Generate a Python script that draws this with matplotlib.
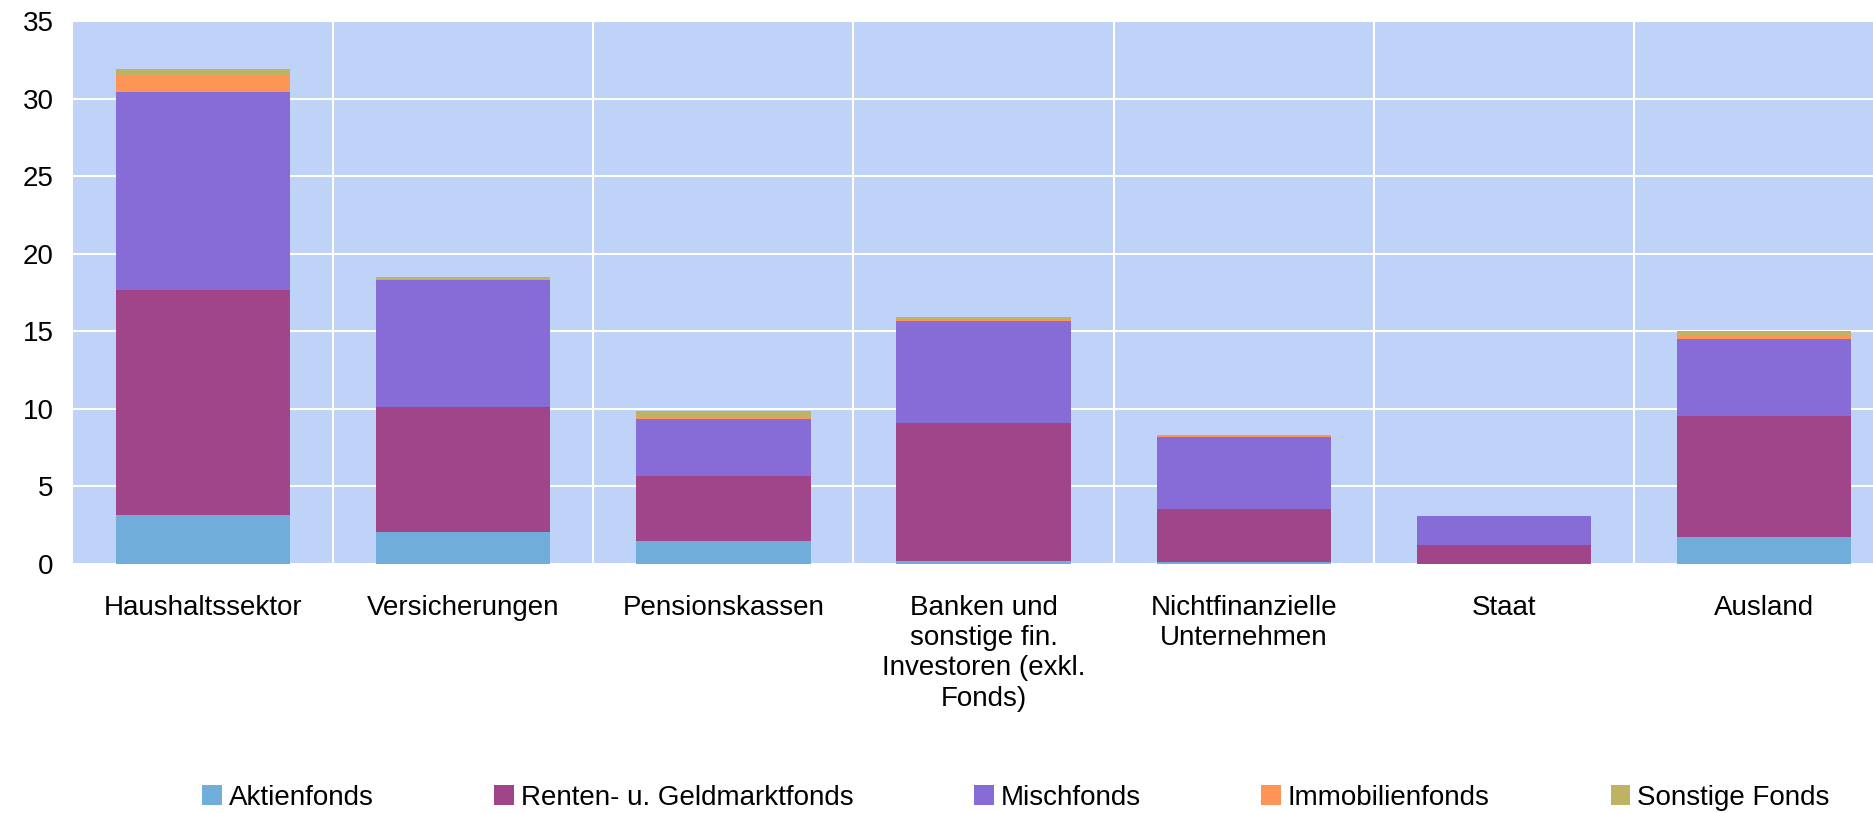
import numpy as np
import matplotlib
matplotlib.use("Agg")
import matplotlib.pyplot as plt

plt.rcParams['font.family'] = ['Liberation Sans', 'DejaVu Sans']

# Sektoren (x-Achse)
categories = ['Haushaltssektor', 'Versicherungen', 'Pensionskassen',
              'Banken und\nsonstige fin.\nInvestoren (exkl.\nFonds)',
              'Nichtfinanzielle\nUnternehmen', 'Staat', 'Ausland']

# Werte je Fondstyp
aktien = [3.16, 2.05, 1.45, 0.20, 0.15, 0.02, 1.77]
renten = [14.50, 8.10, 4.25, 8.90, 3.40, 1.20, 7.80]
misch = [12.77, 8.15, 3.65, 6.57, 4.65, 1.88, 4.93]
immo = [1.08, 0.07, 0.13, 0.13, 0.02, 0.00, 0.26]
sonstige = [0.40, 0.15, 0.38, 0.13, 0.12, 0.02, 0.26]

series = [('Aktienfonds', aktien, '#70ADDB'),
          ('Renten- u. Geldmarktfonds', renten, '#A0458A'),
          ('Mischfonds', misch, '#876CD8'),
          ('Immobilienfonds', immo, '#FF9457'),
          ('Sonstige Fonds', sonstige, '#BFB363')]

fig = plt.figure(figsize=(18.74, 8.13), dpi=100)
# the last category runs a bit past the right edge, as in the original
ax = fig.add_axes([0.039, 0.3063, 0.9717, 0.6679])
ax.set_facecolor('#BFD3F8')

x = np.arange(len(categories))
bottom = np.zeros(len(categories))
for name, vals, col in series:
    ax.bar(x, vals, 0.67, bottom=bottom, color=col, label=name, zorder=3)
    bottom += np.array(vals)

ax.set_xlim(-0.5, len(categories) - 0.5)
ax.set_ylim(0, 35)
ax.set_yticks(range(0, 36, 5))
ax.set_xticks(x)
ax.set_xticklabels(categories, fontsize=20, linespacing=1.22)
ax.set_xticks(np.arange(0.5, len(categories) - 1, 1), minor=True)
ax.tick_params(axis='both', which='both', length=0, labelsize=20)
ax.tick_params(axis='x', pad=22)
ax.tick_params(axis='y', pad=14)

ax.grid(axis='y', color='white', linewidth=1.5, zorder=0)
ax.grid(axis='x', which='minor', color='white', linewidth=1.5, zorder=0)
ax.set_axisbelow(True)
for s in ax.spines.values():
    s.set_visible(False)

fig.legend(loc='lower center', bbox_to_anchor=(0.542, -0.028), ncol=5,
           frameon=False, fontsize=20, handlelength=0.7, handleheight=0.7,
           handletextpad=0.25, columnspacing=4.35)

fig.savefig('out.png', dpi=100)
